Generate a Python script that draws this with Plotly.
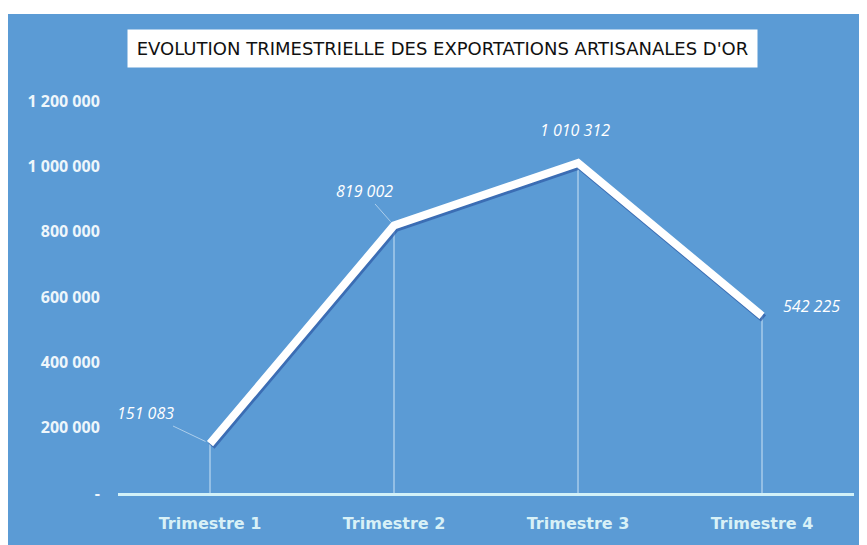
import plotly.graph_objects as go

categories = ["Trimestre 1", "Trimestre 2", "Trimestre 3", "Trimestre 4"]
values = [151083, 819002, 1010312, 542225]
value_labels = ["151 083", "819 002", "1 010 312", "542 225"]
y_tickvals = [0, 200000, 400000, 600000, 800000, 1000000, 1200000]
y_ticktext = ["-", "200 000", "400 000", "600 000", "800 000", "1 000 000", "1 200 000"]
title_text = "EVOLUTION TRIMESTRIELLE DES EXPORTATIONS ARTISANALES D'OR"

W, H = 867, 545
OFF = 8  # page body margin
L, R, T, B = 118 - OFF, 867 - (854 - OFF), 101 - OFF, 545 - (493 - OFF)
pw, ph = W - L - R, H - T - B

def px_x(px):
    return (px - OFF - L) / pw

def px_y(py):
    return (H - B - (py - OFF)) / ph

BLUE = "#5B9BD5"
LIGHT = "#D2F1F8"
YMAX = 1200000

fig = go.Figure()

# drop lines from each point to the axis
fig.add_trace(go.Scatter(
    x=categories, y=values, mode="markers",
    marker=dict(size=1, color="rgba(0,0,0,0)"),
    error_y=dict(type="data", symmetric=False, array=[0]*len(values),
                 arrayminus=values, width=0, thickness=1, color="rgba(225,240,250,0.85)"),
    hoverinfo="skip", showlegend=False))

# shadow of the line (shifted overlay axes)
fig.add_trace(go.Scatter(
    x=categories, y=values, mode="lines",
    line=dict(color="rgba(45,90,165,0.7)", width=8),
    xaxis="x2", yaxis="y2", hoverinfo="skip", showlegend=False))

# main line (unshifted overlay axes, drawn above the shadow)
fig.add_trace(go.Scatter(
    x=categories, y=values, mode="lines",
    line=dict(color="white", width=8),
    xaxis="x3", yaxis="y3", showlegend=False))

# data labels
offsets = [(-65, -31, True, 2), (-30, -34, True, 0), (-3, -33, False, 0), (49, -10, False, 0)]
for cat, v, lab, (ax, ay, arrow, sso) in zip(categories, values, value_labels, offsets):
    fig.add_annotation(
        x=cat, y=v, text=lab, ax=ax, ay=ay, showarrow=True,
        arrowhead=0, arrowwidth=0.8,
        arrowcolor="rgba(220,235,248,0.8)" if arrow else "rgba(0,0,0,0)",
        standoff=5, startstandoff=sso,
        font=dict(family="Open Sans", size=16, color="white", style="italic"),
    )

# title box
fig.add_annotation(
    xref="paper", yref="paper", x=px_x(442.5), y=px_y(48.5),
    xanchor="center", yanchor="middle", showarrow=False,
    text=title_text, width=625, height=33, bgcolor="white", borderpad=2,
    font=dict(family="DejaVu Sans", size=18, color="#111111"),
)

# blue background
fig.add_shape(type="rect", xref="paper", yref="paper",
              x0=px_x(7), x1=px_x(W + 20), y0=px_y(14), y1=px_y(H + 20),
              fillcolor=BLUE, line=dict(width=0), layer="below")

dx = 1.5 * 4 / pw     # shadow offset in category units (1.5px)
dy = 2.5 * YMAX / ph  # shadow offset in value units (2.5px)

fig.update_layout(
    width=W, height=H,
    margin=dict(l=L, r=R, t=T, b=B),
    paper_bgcolor="white", plot_bgcolor="rgba(0,0,0,0)",
    xaxis=dict(type="category", range=[-0.5, 3.5], showgrid=False, zeroline=False,
               showline=True, linecolor=LIGHT, linewidth=3,
               ticks="outside", ticklen=14, tickcolor="rgba(0,0,0,0)",
               tickfont=dict(family="DejaVu Sans", size=16, color="#D8F1F7", weight="bold")),
    yaxis=dict(range=[0, YMAX], showgrid=False, zeroline=False, showline=False,
               tickvals=y_tickvals, ticktext=y_ticktext,
               ticks="outside", ticklen=14, tickcolor="rgba(0,0,0,0)",
               tickfont=dict(family="Open Sans", size=16, color="#EEF6FB", weight="bold")),
    xaxis2=dict(type="category", overlaying="x", range=[-0.5 - dx, 3.5 - dx], visible=False),
    yaxis2=dict(overlaying="y", range=[dy, YMAX + dy], visible=False),
    xaxis3=dict(type="category", overlaying="x", range=[-0.5, 3.5], visible=False),
    yaxis3=dict(overlaying="y", range=[0, YMAX], visible=False),
)

fig.write_html("out.html")
